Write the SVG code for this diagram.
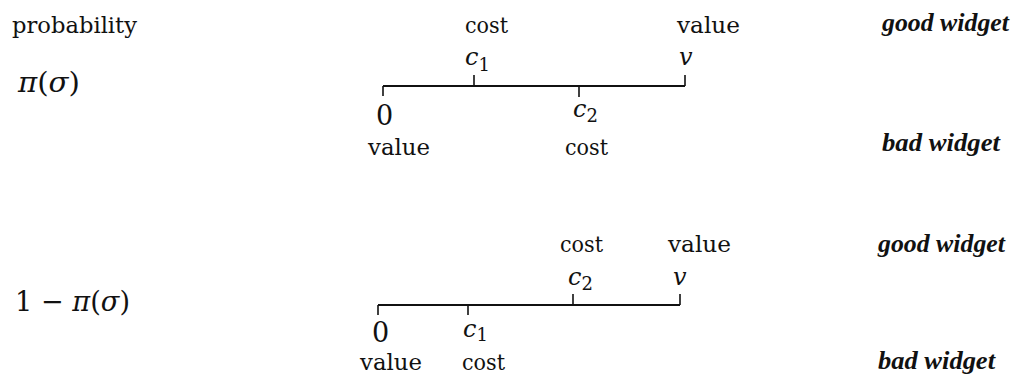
<svg xmlns="http://www.w3.org/2000/svg" width="1018" height="376" viewBox="0 0 1018 376">
<style>
text{font-family:"DejaVu Serif","Liberation Serif",serif;fill:#111}
.lbl{font-size:22px}
.it{font-family:"Liberation Serif","DejaVu Serif",serif;font-size:25px;font-style:italic;font-weight:bold}
.m{font-style:italic;font-size:24px}
.sub{font-style:normal;font-size:18px}
.big{font-size:28px}
.zero{font-size:27px}
.ax{stroke:#111;stroke-width:2;fill:none}
.tk{stroke:#111;stroke-width:1.6;fill:none}
</style>
<rect width="1018" height="376" fill="#fff"/>
<g id="top">
<text class="lbl" x="12" y="33" textLength="125" lengthAdjust="spacingAndGlyphs">probability</text>
<text class="big" x="18" y="92" textLength="62" lengthAdjust="spacingAndGlyphs"><tspan font-style="italic">π</tspan>(<tspan font-style="italic">σ</tspan>)</text>
<g id="axis1">
<line class="ax" x1="383" y1="86" x2="685" y2="86"/>
<line class="tk" x1="383" y1="86" x2="383" y2="96"/>
<line class="tk" x1="474" y1="86" x2="474" y2="75"/>
<line class="tk" x1="579" y1="86" x2="579" y2="97"/>
<line class="tk" x1="685" y1="86" x2="685" y2="75"/>
</g>
<text class="lbl" x="465" y="33" textLength="43" lengthAdjust="spacingAndGlyphs">cost</text>
<text class="lbl" x="677" y="33" textLength="63" lengthAdjust="spacingAndGlyphs">value</text>
<text class="m" x="465" y="65">c<tspan class="sub" dy="6">1</tspan></text>
<text class="m" x="679" y="65">v</text>
<text class="zero" x="376" y="125">0</text>
<text class="m" x="573" y="117">c<tspan class="sub" dy="5">2</tspan></text>
<text class="lbl" x="368" y="155" textLength="62" lengthAdjust="spacingAndGlyphs">value</text>
<text class="lbl" x="565" y="155" textLength="43" lengthAdjust="spacingAndGlyphs">cost</text>
<text class="it" x="882" y="31" textLength="127" lengthAdjust="spacingAndGlyphs">good widget</text>
<text class="it" x="882" y="151" textLength="118" lengthAdjust="spacingAndGlyphs">bad widget</text>
</g>
<g id="bottom">
<text class="big" x="15" y="311" textLength="115" lengthAdjust="spacingAndGlyphs">1 − <tspan font-style="italic">π</tspan>(<tspan font-style="italic">σ</tspan>)</text>
<g id="axis2">
<line class="ax" x1="378" y1="305" x2="680" y2="305"/>
<line class="tk" x1="378" y1="305" x2="378" y2="315"/>
<line class="tk" x1="468" y1="305" x2="468" y2="315"/>
<line class="tk" x1="573" y1="305" x2="573" y2="294"/>
<line class="tk" x1="680" y1="305" x2="680" y2="294"/>
</g>
<text class="lbl" x="560" y="252" textLength="43" lengthAdjust="spacingAndGlyphs">cost</text>
<text class="lbl" x="668" y="252" textLength="63" lengthAdjust="spacingAndGlyphs">value</text>
<text class="m" x="568" y="285">c<tspan class="sub" dy="5">2</tspan></text>
<text class="m" x="673" y="285">v</text>
<text class="zero" x="372" y="342">0</text>
<text class="m" x="463" y="337">c<tspan class="sub" dy="4">1</tspan></text>
<text class="lbl" x="360" y="370" textLength="62" lengthAdjust="spacingAndGlyphs">value</text>
<text class="lbl" x="462" y="370" textLength="43" lengthAdjust="spacingAndGlyphs">cost</text>
<text class="it" x="878" y="252" textLength="127" lengthAdjust="spacingAndGlyphs">good widget</text>
<text class="it" x="878" y="369" textLength="117" lengthAdjust="spacingAndGlyphs">bad widget</text>
</g>
</svg>
